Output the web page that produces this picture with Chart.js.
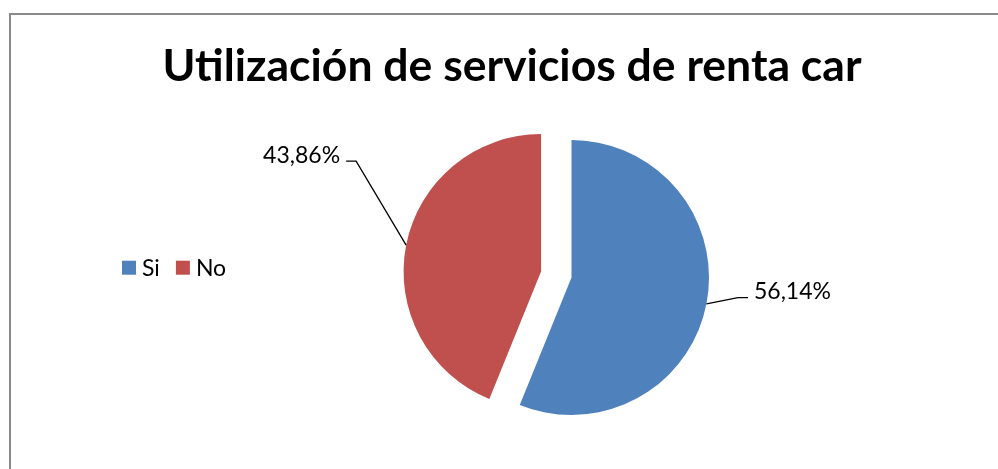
<!DOCTYPE html>
<html>
<head>
<meta charset="utf-8">
<script src="https://cdn.jsdelivr.net/npm/chart.js@4/dist/chart.umd.min.js"></script>
<style>
  html, body { margin: 0; padding: 0; background: #fff; overflow: hidden; }
  .frame {
    position: absolute; left: 9px; top: 13px;
    width: 1002px; height: 470px;
    border-left: 2px solid #8a8a8a; border-top: 2px solid #8a8a8a;
  }
  canvas { display: block; }
</style>
</head>
<body>
<div class="frame"><canvas id="pieChart" width="1002" height="470"></canvas></div>
<script>
const categories = ['Si', 'No'];
const percentages = [56.14, 43.86];
const sliceColors = ['#4F81BD', '#C0504D'];
const explode = [0, 31];

const FONT = 'Lato, Calibri, "Open Sans", sans-serif';

// pulls a slice outward along its bisector, without resizing it
const explodePlugin = {
  id: 'explodeSlices',
  afterDatasetUpdate(chart) {
    chart.getDatasetMeta(0).data.forEach((arc, i) => {
      const d = explode[i] || 0;
      const mid = (arc.startAngle + arc.endAngle) / 2;
      arc.x += Math.cos(mid) * d;
      arc.y += Math.sin(mid) * d;
    });
  }
};

// percentage labels with leader lines, Excel style
const labelPlugin = {
  id: 'pctLabels',
  afterDatasetsDraw(chart) {
    const ctx = chart.ctx;
    const leaders = [
      { elbow: [31.5, -6.2], end: [41.5, -6.2], align: 'left' },
      { elbow: [-50, -84], end: [-60, -84], align: 'right' }
    ];
    ctx.save();
    chart.getDatasetMeta(0).data.forEach((arc, i) => {
      const mid = (arc.startAngle + arc.endAngle) / 2;
      const px = arc.x + Math.cos(mid) * arc.outerRadius;
      const py = arc.y + Math.sin(mid) * arc.outerRadius;
      const l = leaders[i];
      ctx.strokeStyle = '#000';
      ctx.lineWidth = 1.3;
      ctx.beginPath();
      ctx.moveTo(px, py);
      ctx.lineTo(px + l.elbow[0], py + l.elbow[1]);
      ctx.lineTo(px + l.end[0], py + l.end[1]);
      ctx.stroke();
      ctx.fillStyle = '#000';
      ctx.font = '23px ' + FONT;
      ctx.textBaseline = 'middle';
      ctx.textAlign = l.align;
      const tx = px + l.end[0] + (l.align === 'left' ? 6 : -6);
      ctx.fillText(percentages[i].toFixed(2).replace('.', ',') + '%', tx, py + l.end[1] - 6);
    });
    ctx.restore();
  }
};

// legend sitting in a left layout box, items side by side
const legendBoxPlugin = {
  id: 'sideLegend',
  beforeInit(chart) {
    const box = {
      position: 'left',
      weight: 1,
      fullSize: false,
      options: {},
      isHorizontal() { return false; },
      update(maxWidth, maxHeight) {
        this.width = 119;
        this.height = maxHeight;
      },
      draw() {
        const ctx = chart.ctx;
        const cy = (this.top + this.bottom) / 2 - 9.8;
        let x = this.left + 111;
        ctx.save();
        ctx.font = '23px ' + FONT;
        ctx.textBaseline = 'middle';
        ctx.textAlign = 'left';
        categories.forEach((name, i) => {
          ctx.fillStyle = sliceColors[i];
          ctx.fillRect(x, cy - 7, 14, 14);
          ctx.fillStyle = '#000';
          ctx.fillText(name, x + 20, cy + 1);
          x += 20 + ctx.measureText(name).width + 16;
        });
        ctx.restore();
      }
    };
    Chart.layouts.addBox(chart, box);
  }
};

const pieCtx = document.getElementById('pieChart').getContext('2d');
new Chart(pieCtx, {
  type: 'pie',
  data: {
    labels: categories,
    datasets: [{
      data: percentages,
      backgroundColor: sliceColors,
      borderWidth: 0
    }]
  },
  options: {
    responsive: false,
    animation: false,
    events: [],
    layout: { padding: { top: 0, bottom: 70, left: 0, right: 0 } },
    plugins: {
      legend: { display: false },
      tooltip: { enabled: false },
      title: {
        display: true,
        text: 'Utilización de servicios de renta car',
        color: '#000',
        font: { family: FONT, size: 44.5, weight: 'bold', lineHeight: 1.2 },
        padding: { top: 25, bottom: 46.6 }
      }
    }
  },
  plugins: [explodePlugin, labelPlugin, legendBoxPlugin]
});
</script>
</body>
</html>
